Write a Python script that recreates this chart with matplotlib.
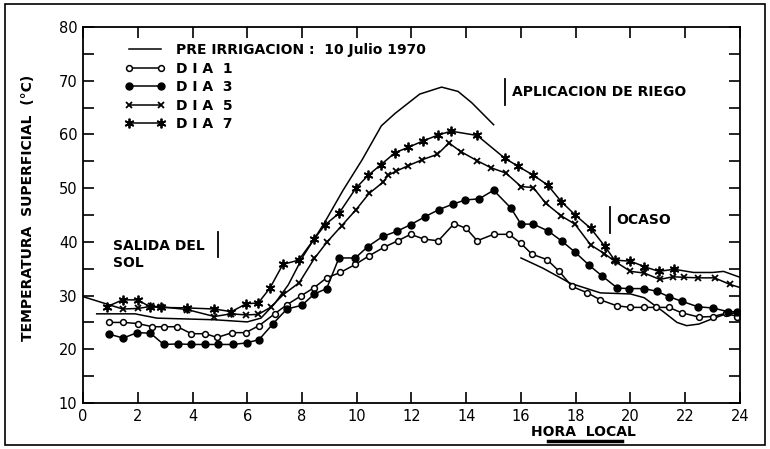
import numpy as np
import matplotlib
matplotlib.use('Agg')
import matplotlib.pyplot as plt
from matplotlib.lines import Line2D
from matplotlib.patches import Rectangle

plt.rcParams['font.family'] = ['DejaVu Sans']

# pre irrigacion (linea continua, sin marcas), dos tramos
hora_pre_am = [0.5, 1.9, 2.7, 4.8, 6.0, 6.5, 7.0, 7.5, 8.05, 8.78, 9.5, 10.2, 10.9, 11.4, 12.3, 13.1, 13.7, 14.2, 15.0]
temp_pre_am = [26.6, 26.6, 25.8, 25.5, 25.1, 25.8, 28.5, 32.0, 37.4, 43.2, 49.6, 55.3, 61.6, 63.9, 67.5, 68.8, 68.0, 65.9, 61.8]
hora_pre_pm = [16.0, 16.8, 17.8, 18.9, 20.0, 20.5, 21.2, 21.7, 22.05, 22.5, 23.0, 23.5, 24.0]
temp_pre_pm = [37.0, 35.1, 32.3, 30.5, 30.3, 29.6, 27.0, 25.0, 24.4, 24.7, 25.7, 26.6, 26.8]

# dia 1
hora_d1 = [0.95, 1.47, 2.0, 2.53, 2.97, 3.45, 3.96, 4.47, 4.9, 5.45, 5.94, 6.43, 7.0, 7.45, 7.95, 8.45,
           8.9, 9.4, 9.95, 10.45, 11.0, 11.5, 11.97, 12.46, 12.98, 13.56, 14.0, 14.4, 15.0, 15.57, 16.0,
           16.4, 16.95, 17.4, 17.86, 18.43, 18.9, 19.5, 20.0, 20.5, 20.95, 21.4, 21.87, 22.5, 23.0, 23.5, 23.9]
temp_d1 = [25.0, 25.0, 24.8, 24.2, 24.2, 24.2, 22.9, 22.9, 22.2, 23.1, 23.1, 24.4, 26.6, 28.3, 29.9, 31.5,
           33.3, 34.3, 35.8, 37.4, 39.0, 40.2, 41.4, 40.5, 40.2, 43.4, 42.5, 40.2, 41.4, 41.4, 39.7,
           37.7, 36.7, 34.5, 31.7, 30.5, 29.2, 28.1, 27.8, 27.8, 27.8, 27.8, 26.8, 26.0, 26.1, 26.7, 26.1]

# dia 3
hora_d3 = [0.96, 1.47, 1.98, 2.46, 2.95, 3.48, 3.96, 4.45, 4.94, 5.49, 5.98, 6.43, 6.95, 7.45, 8.0, 8.45,
           8.9, 9.35, 9.95, 10.4, 10.95, 11.48, 11.97, 12.5, 13.0, 13.5, 13.97, 14.47, 15.0, 15.63, 16.0,
           16.45, 17.0, 17.5, 17.97, 18.5, 18.95, 19.52, 19.95, 20.5, 20.96, 21.4, 21.9, 22.47, 23.0, 23.57, 23.9]
temp_d3 = [22.8, 22.1, 23.1, 23.0, 20.9, 21.0, 20.9, 20.9, 20.9, 20.9, 21.2, 21.8, 24.8, 27.5, 28.2, 30.3,
           31.3, 37.0, 37.0, 39.1, 41.0, 42.0, 43.2, 44.7, 46.0, 47.0, 47.8, 48.0, 49.6, 46.3, 43.3,
           43.3, 42.0, 40.1, 38.1, 35.6, 33.7, 31.4, 31.3, 31.3, 30.8, 29.8, 28.9, 27.9, 27.7, 27.0, 27.0]

# dia 5
hora_d5 = [0.0, 1.45, 2.0, 2.5, 2.85, 3.8, 4.8, 5.4, 5.95, 6.4, 6.85, 7.32, 7.9, 8.45, 8.92, 9.45, 9.96,
           10.45, 10.96, 11.15, 11.42, 11.89, 12.4, 12.95, 13.37, 13.8, 14.4, 14.9, 15.45, 16.0, 16.45, 16.9,
           17.48, 17.97, 18.55, 19.05, 19.42, 20.0, 20.5, 21.07, 21.55, 21.97, 22.46, 23.07, 23.62, 24.0]
temp_d5 = [29.8, 27.5, 27.6, 28.0, 27.9, 27.4, 26.1, 26.6, 26.4, 26.5, 27.8, 30.2, 32.4, 36.9, 40.0, 43.0, 45.9,
           49.0, 51.1, 52.4, 53.1, 54.2, 55.3, 56.3, 58.4, 56.8, 55.1, 53.8, 52.8, 50.3, 50.1, 47.2,
           44.8, 43.3, 39.4, 37.8, 36.4, 34.5, 34.2, 33.0, 33.5, 33.4, 33.3, 33.3, 32.1, 31.5]

# dia 7
hora_d7 = [0.86, 1.45, 2.0, 2.45, 2.85, 3.8, 4.8, 5.42, 5.97, 6.4, 6.83, 7.3, 7.88, 8.44, 8.85, 9.35, 9.97,
           10.42, 10.87, 11.4, 11.89, 12.43, 12.98, 13.45, 14.4, 15.4, 15.88, 16.45, 16.97, 17.47, 17.98,
           18.55, 19.06, 19.42, 20.0, 20.5, 21.03, 21.6, 22.3, 23.0, 23.4, 24.0]
temp_d7 = [27.9, 29.2, 29.2, 27.9, 27.8, 27.7, 27.5, 27.0, 28.5, 28.6, 31.4, 35.8, 36.6, 40.5, 43.2, 45.3, 50.0,
           52.4, 54.3, 56.6, 57.6, 58.8, 59.9, 60.6, 59.8, 55.6, 54.1, 52.4, 50.6, 47.5, 45.0,
           42.5, 39.2, 36.6, 36.4, 35.4, 34.5, 34.9, 34.3, 34.3, 34.5, 33.4]

fig = plt.figure(figsize=(7.7, 4.49), dpi=100)
ax = fig.add_axes([0.1078, 0.1024, 0.8532, 0.8376])

lw = 1.1
ax.plot(hora_pre_am, temp_pre_am, 'k-', lw=lw)
ax.plot(hora_pre_pm, temp_pre_pm, 'k-', lw=lw)
ax.plot(hora_d1, temp_d1, 'k-', lw=lw, marker='o', ms=4.2, mfc='white', mew=1.1)
ax.plot(hora_d3, temp_d3, 'k-', lw=lw, marker='o', ms=5, mfc='black')
ax.plot(hora_d5, temp_d5, 'k-', lw=lw, marker='x', ms=5, mew=1.3,
        markevery=list(range(1, len(hora_d5) - 1)))
ast = (6, 2, 0)
ax.plot(hora_d7, temp_d7, 'k-', lw=lw, marker=ast, ms=7, mew=1.3,
        markevery=[i for i, h in enumerate(hora_d7) if h <= 21.6])

ax.set_xlim(0, 24)
ax.set_ylim(10, 80)
ax.set_xticks(np.arange(0, 25, 2))
ax.set_yticks(np.arange(10, 81, 5))
ax.set_yticklabels([str(v) if v % 10 == 0 else '' for v in range(10, 81, 5)])
ax.tick_params(direction='in', length=8, width=1.2, top=True, right=True,
               labelsize=10.5, pad=4)
for s in ax.spines.values():
    s.set_linewidth(1.3)

# leyenda
handles = [
    Line2D([], [], color='k', lw=lw),
    Line2D([], [], color='k', lw=lw, marker='o', ms=4.2, mfc='white', mew=1.1),
    Line2D([], [], color='k', lw=lw, marker='o', ms=5, mfc='black'),
    Line2D([], [], color='k', lw=lw, marker='x', ms=5, mew=1.3),
    Line2D([], [], color='k', lw=lw, marker=ast, ms=7, mew=1.3),
]
labels = ['PRE IRRIGACION :  10 Julio 1970', 'D I A  1', 'D I A  3', 'D I A  5', 'D I A  7']
leg = ax.legend(handles, labels, loc='upper left', bbox_to_anchor=(0.045, 0.99),
                frameon=False, numpoints=2, handlelength=2.9, handletextpad=0.8,
                labelspacing=0.32, prop={'size': 10, 'weight': 'bold'})

# anotaciones
tk = dict(fontsize=10, fontweight='bold')
ax.plot([15.42, 15.42], [65.5, 70.3], 'k-', lw=1.3)
ax.text(15.67, 67.9, 'APLICACION DE RIEGO', va='center', ha='left', **tk)
ax.plot([19.25, 19.25], [41.6, 46.4], 'k-', lw=1.3)
ax.text(19.47, 44.0, 'OCASO', va='center', ha='left', **tk)
ax.text(1.1, 39.3, 'SALIDA DEL', va='center', ha='left', **tk)
ax.text(1.1, 36.0, 'SOL', va='center', ha='left', **tk)
ax.plot([4.93, 4.93], [37.1, 41.9], 'k-', lw=1.3)

ax.text(-0.083, 0.52, 'TEMPERATURA  SUPERFICIAL  (°C)', transform=ax.transAxes,
        rotation=90, ha='center', va='center', fontsize=10, fontweight='bold')
ax.text(0.761, -0.077, 'HORA  LOCAL', transform=ax.transAxes, ha='center', va='center', **tk)
fig.add_artist(Line2D([548 / 770, 622 / 770], [1 - 441 / 449, 1 - 441 / 449],
                      transform=fig.transFigure, color='k', lw=2.5))

fig.add_artist(Rectangle((0.007, 0.008), 0.986, 0.982, transform=fig.transFigure,
                         fill=False, lw=1.2, ec='k'))

fig.savefig('out.png', dpi=100)
